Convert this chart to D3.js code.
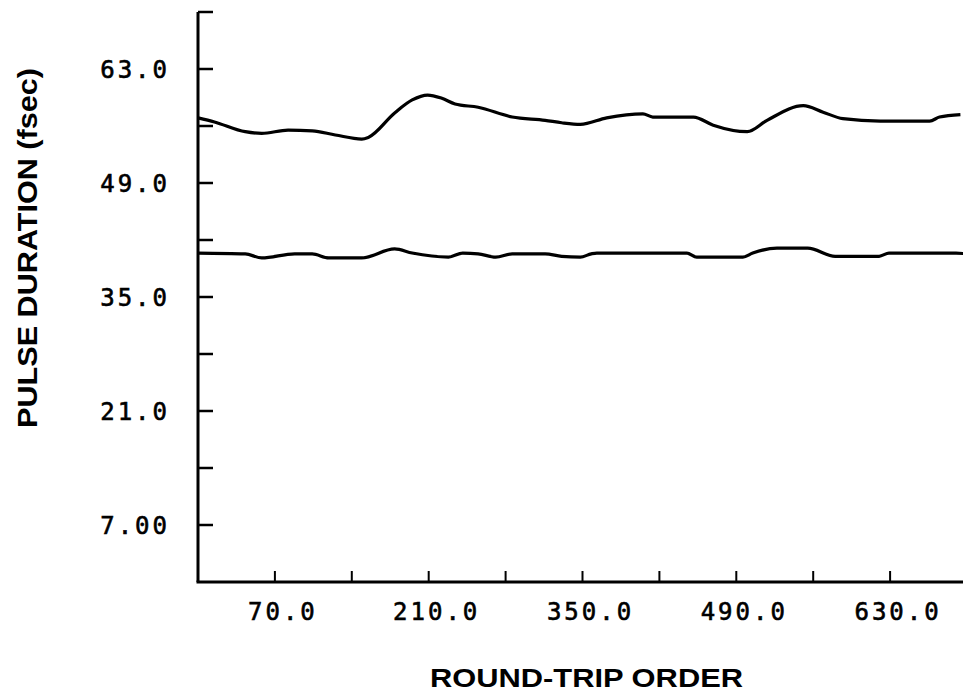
<!DOCTYPE html>
<html><head><meta charset="utf-8">
<script src="https://cdn.jsdelivr.net/npm/d3@7"></script>
<style>body{margin:0;background:#fff}svg{display:block}</style>
</head><body>
<svg id="c" width="963" height="695"></svg>
<script>
// Data
const upperX = [0,15,43,58,82,104,125,149,155,179,195,209,222,234,255,286,316,331,348,372,405,414,451,469,500,518,551,569,587,621,666,675,694];
const upperY = [57.0,56.5,55.3,55.1,55.5,55.4,54.9,54.4,54.6,57.6,59.2,59.8,59.4,58.7,58.3,57.1,56.7,56.4,56.2,57.0,57.5,57.1,57.1,56.1,55.3,56.7,58.5,57.7,56.9,56.6,56.6,57.1,57.4];
const lowerX = [0,43,58,88,104,119,149,179,195,228,241,255,271,286,316,331,348,358,363,445,454,496,505,527,555,580,620,629,690,699];
const lowerY = [40.4,40.3,39.8,40.3,40.3,39.8,39.8,40.9,40.4,39.9,40.4,40.3,39.9,40.3,40.3,40.0,39.9,40.3,40.4,40.4,39.9,39.9,40.4,41.0,41.0,40.0,40.0,40.4,40.4,40.3];
const yTickValues = [7,14,21,28,35,42,49,56,63,70];
const yLabelValues = [7,21,35,49,63];
const yTickLabels = ["7.00","21.0","35.0","49.0","63.0"];
const xTickValues = [70,140,210,280,350,420,490,560,630];
const xLabelValues = [70,210,350,490,630];
const xTickLabels = ["70.0","210.0","350.0","490.0","630.0"];
const xTitle = "ROUND-TRIP ORDER";
const yTitle = "PULSE DURATION (fsec)";

const svg = d3.select("#c");
const x = d3.scaleLinear().domain([0,700]).range([198,967]);
const y = d3.scaleLinear().domain([0,70]).range([582,12]);

// axes lines
svg.append("line").attr("x1",x(0)).attr("x2",x(0)).attr("y1",y(70)).attr("y2",y(0))
  .attr("stroke","#000").attr("stroke-width",3);
svg.append("line").attr("x1",x(0)-1.5).attr("x2",963).attr("y1",y(0)).attr("y2",y(0))
  .attr("stroke","#000").attr("stroke-width",3);

// y ticks
svg.selectAll(".yt").data(yTickValues).enter().append("line")
  .attr("x1",x(0)).attr("x2",x(0)+15).attr("y1",d=>y(d)).attr("y2",d=>y(d))
  .attr("stroke","#000").attr("stroke-width",2.5);
// x ticks
svg.selectAll(".xt").data(xTickValues).enter().append("line")
  .attr("x1",d=>x(d)).attr("x2",d=>x(d)).attr("y1",y(0)).attr("y2",y(0)-11)
  .attr("stroke","#000").attr("stroke-width",2);

const tickFont = "'DejaVu Sans Mono', monospace";
svg.selectAll(".yl").data(yLabelValues).enter().append("text")
  .attr("x",170).attr("y",d=>y(d)).attr("dy","0.36em")
  .attr("text-anchor","end").attr("font-family",tickFont).attr("font-size",24)
  .attr("letter-spacing",3).attr("fill","#000").attr("stroke","#000").attr("stroke-width",0.6)
  .text((d,i)=>yTickLabels[i]);
svg.selectAll(".xl").data(xLabelValues).enter().append("text")
  .attr("x",d=>x(d)+8).attr("y",611).attr("dy","0.36em")
  .attr("text-anchor","middle").attr("font-family",tickFont).attr("font-size",24)
  .attr("letter-spacing",3).attr("fill","#000").attr("stroke","#000").attr("stroke-width",0.6)
  .text((d,i)=>xTickLabels[i]);

// titles
svg.append("text").attr("x",430).attr("y",687)
  .attr("font-family","'Liberation Sans', Arial, sans-serif").attr("font-weight","bold")
  .attr("font-size",26).attr("textLength",313).attr("lengthAdjust","spacingAndGlyphs").text(xTitle);
svg.append("text").attr("transform","translate(37,428) rotate(-90)")
  .attr("font-family","'Liberation Sans', Arial, sans-serif").attr("font-weight","bold")
  .attr("font-size",27).attr("textLength",360).attr("lengthAdjust","spacingAndGlyphs").text(yTitle);

// lines
const up = upperX.map((d,i)=>[d,upperY[i]]);
const lo = lowerX.map((d,i)=>[d,lowerY[i]]);
const line = d3.line().x(d=>x(d[0])).y(d=>y(d[1])).curve(d3.curveMonotoneX);
[up,lo].forEach(s=>svg.append("path").attr("d",line(s)).attr("fill","none")
  .attr("stroke","#000").attr("stroke-width",3.2).attr("stroke-linejoin","round"));
</script>
</body></html>
